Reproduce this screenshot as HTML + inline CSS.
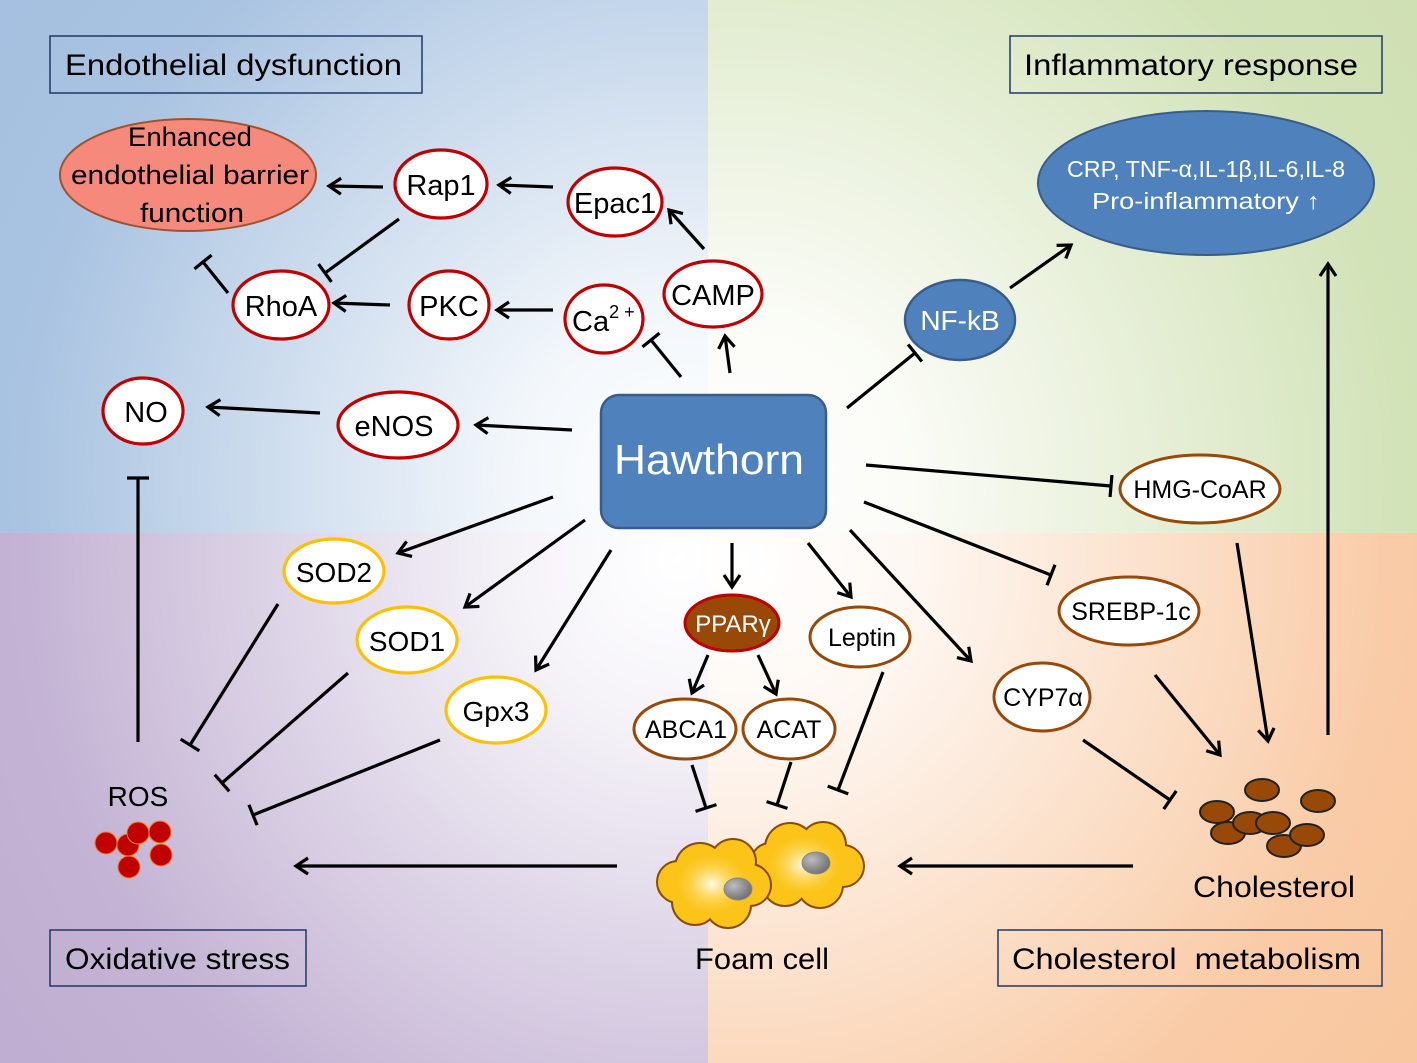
<!DOCTYPE html>
<html><head><meta charset="utf-8"><style>html,body{margin:0;padding:0}svg{display:block}text{font-family:"Liberation Sans","DejaVu Sans",sans-serif}</style></head><body>
<svg width="1417" height="1063" viewBox="0 0 1417 1063" xmlns="http://www.w3.org/2000/svg">
<defs>
<radialGradient id="gTL" gradientUnits="userSpaceOnUse" cx="680" cy="480" r="820"><stop offset="0" stop-color="#ffffff"/><stop offset="0.2" stop-color="#f3f7fb"/><stop offset="0.8" stop-color="#a9c3e1"/><stop offset="1" stop-color="#a5c0e0"/></radialGradient>
<radialGradient id="gTR" gradientUnits="userSpaceOnUse" cx="740" cy="480" r="820"><stop offset="0" stop-color="#ffffff"/><stop offset="0.2" stop-color="#fbfcf7"/><stop offset="0.8" stop-color="#d3e3b9"/><stop offset="1" stop-color="#cfe0b3"/></radialGradient>
<radialGradient id="gBL" gradientUnits="userSpaceOnUse" cx="680" cy="560" r="820"><stop offset="0" stop-color="#ffffff"/><stop offset="0.2" stop-color="#f5f3f8"/><stop offset="0.8" stop-color="#c4b3d4"/><stop offset="1" stop-color="#c0aed2"/></radialGradient>
<radialGradient id="gBR" gradientUnits="userSpaceOnUse" cx="740" cy="560" r="820"><stop offset="0" stop-color="#ffffff"/><stop offset="0.2" stop-color="#fef8f3"/><stop offset="0.8" stop-color="#f9cba6"/><stop offset="1" stop-color="#f8c7a0"/></radialGradient>
<radialGradient id="hl" cx="0.5" cy="0.5" r="0.5"><stop offset="0" stop-color="#fffbea"/><stop offset="1" stop-color="#ffd44a" stop-opacity="0"/></radialGradient>
<radialGradient id="nuc" cx="0.35" cy="0.35" r="0.7"><stop offset="0" stop-color="#bdbdbd"/><stop offset="1" stop-color="#6e6e6e"/></radialGradient>
<marker id="a" markerUnits="userSpaceOnUse" markerWidth="24" markerHeight="24" refX="20" refY="12" orient="auto"><path d="M8,4 L20,12 L8,20" fill="none" stroke="#000" stroke-width="3.2"/></marker>
<marker id="t" markerUnits="userSpaceOnUse" markerWidth="10" markerHeight="26" refX="4" refY="13" orient="auto"><path d="M4,2 L4,24" stroke="#000" stroke-width="3.2"/></marker>
</defs>
<rect x="0" y="0" width="708" height="533" fill="url(#gTL)"/>
<rect x="708" y="0" width="709" height="533" fill="url(#gTR)"/>
<rect x="0" y="533" width="708" height="530" fill="url(#gBL)"/>
<rect x="708" y="533" width="709" height="530" fill="url(#gBR)"/>

<g fill="none" stroke="#1f3864" stroke-width="1.5">
<rect x="50" y="36" width="372" height="57"/><rect x="1010" y="36" width="372" height="57"/>
<rect x="50" y="930" width="256" height="56"/><rect x="998" y="930" width="384" height="56"/>
</g>
<g font-size="30" fill="#000">
<text x="65" y="75" textLength="337" lengthAdjust="spacingAndGlyphs">Endothelial dysfunction</text>
<text x="1024" y="75" textLength="334" lengthAdjust="spacingAndGlyphs">Inflammatory response</text>
<text x="65" y="969" textLength="225" lengthAdjust="spacingAndGlyphs">Oxidative stress</text>
<text x="1012" y="969" xml:space="preserve" textLength="349" lengthAdjust="spacingAndGlyphs">Cholesterol  metabolism</text>
</g>

<g stroke="#000" stroke-width="3.2" fill="none">
<line x1="383" y1="187" x2="329" y2="186" marker-end="url(#a)"/>
<line x1="553" y1="187" x2="499" y2="185" marker-end="url(#a)"/>
<line x1="704" y1="249" x2="669" y2="210" marker-end="url(#a)"/>
<line x1="730" y1="373" x2="725" y2="336" marker-end="url(#a)"/>
<line x1="681" y1="377" x2="651" y2="340" marker-end="url(#t)"/>
<line x1="553" y1="310" x2="497" y2="310" marker-end="url(#a)"/>
<line x1="390" y1="305" x2="334" y2="303" marker-end="url(#a)"/>
<line x1="399" y1="219" x2="325" y2="273" marker-end="url(#t)"/>
<line x1="228" y1="293" x2="203" y2="262" marker-end="url(#t)"/>
<line x1="572" y1="430" x2="476" y2="425" marker-end="url(#a)"/>
<line x1="320" y1="413" x2="208" y2="407" marker-end="url(#a)"/>
<line x1="138" y1="742" x2="138" y2="478" marker-end="url(#t)"/>
<line x1="847" y1="408" x2="915" y2="353" marker-end="url(#t)"/>
<line x1="1010" y1="288" x2="1071" y2="245" marker-end="url(#a)"/>
<line x1="866" y1="465" x2="1111" y2="486" marker-end="url(#t)"/>
<line x1="864" y1="502" x2="1051" y2="575" marker-end="url(#t)"/>
<line x1="850" y1="530" x2="971" y2="661" marker-end="url(#a)"/>
<line x1="808" y1="543" x2="851" y2="597" marker-end="url(#a)"/>
<line x1="732" y1="543" x2="732" y2="587" marker-end="url(#a)"/>
<line x1="708" y1="655" x2="692" y2="693" marker-end="url(#a)"/>
<line x1="758" y1="655" x2="776" y2="694" marker-end="url(#a)"/>
<line x1="692" y1="765" x2="706" y2="808" marker-end="url(#t)"/>
<line x1="791" y1="762" x2="777" y2="805" marker-end="url(#t)"/>
<line x1="883" y1="672" x2="838" y2="790" marker-end="url(#t)"/>
<line x1="1237" y1="543" x2="1268" y2="741" marker-end="url(#a)"/>
<line x1="1155" y1="675" x2="1220" y2="755" marker-end="url(#a)"/>
<line x1="1083" y1="740" x2="1170" y2="800" marker-end="url(#t)"/>
<line x1="1328" y1="735" x2="1328" y2="264" marker-end="url(#a)"/>
<line x1="553" y1="497" x2="398" y2="553" marker-end="url(#a)"/>
<line x1="585" y1="520" x2="465" y2="607" marker-end="url(#a)"/>
<line x1="611" y1="550" x2="536" y2="670" marker-end="url(#a)"/>
<line x1="278" y1="604" x2="190" y2="745" marker-end="url(#t)"/>
<line x1="348" y1="673" x2="222" y2="783" marker-end="url(#t)"/>
<line x1="440" y1="740" x2="253" y2="815" marker-end="url(#t)"/>
<line x1="617" y1="866" x2="296" y2="866" marker-end="url(#a)"/>
<line x1="1133" y1="866" x2="900" y2="866" marker-end="url(#a)"/>
</g>

<ellipse cx="188" cy="175" rx="128" ry="56" fill="#f4897c" stroke="#a0522d" stroke-width="2"/>
<g font-size="27" fill="#000" text-anchor="middle">
<text x="190" y="146" textLength="124" lengthAdjust="spacingAndGlyphs">Enhanced</text><text x="190" y="184" textLength="238" lengthAdjust="spacingAndGlyphs">endothelial barrier</text><text x="192" y="222" textLength="104" lengthAdjust="spacingAndGlyphs">function</text>
</g>

<g fill="#fff" stroke="#c00000" stroke-width="3.2">
<ellipse cx="441" cy="184" rx="46" ry="34"/><ellipse cx="615" cy="202" rx="47" ry="34"/>
<ellipse cx="281" cy="305" rx="48" ry="34"/><ellipse cx="449" cy="305" rx="40" ry="34"/>
<ellipse cx="604" cy="319" rx="39" ry="34"/><ellipse cx="713" cy="294" rx="49" ry="33"/>
<ellipse cx="143" cy="411" rx="40" ry="33"/><ellipse cx="398" cy="425" rx="60" ry="33"/>
</g>
<g font-size="29" fill="#000" text-anchor="middle">
<text x="441" y="195">Rap1</text><text x="615" y="213">Epac1</text>
<text x="281" y="316">RhoA</text><text x="449" y="316">PKC</text>
<text x="713" y="305">CAMP</text><text x="146" y="422">NO</text><text x="394" y="436">eNOS</text>
</g>
<text x="572" y="331" font-size="29" fill="#000">Ca<tspan font-size="18" dy="-13">2 +</tspan></text>

<rect x="601" y="395" width="225" height="133" rx="18" fill="#4f81bd" stroke="#385d8a" stroke-width="2.5"/>
<text x="709" y="474" font-size="42" fill="#fff" text-anchor="middle" textLength="190" lengthAdjust="spacingAndGlyphs">Hawthorn</text>

<ellipse cx="960" cy="320" rx="55" ry="40" fill="#4f81bd" stroke="#385d8a" stroke-width="2.5"/>
<text x="960" y="330" font-size="28" fill="#fff" text-anchor="middle">NF-kB</text>
<ellipse cx="1206" cy="183" rx="168" ry="72" fill="#4f81bd" stroke="#385d8a" stroke-width="2"/>
<text x="1206" y="177" font-size="23" fill="#fff" text-anchor="middle" textLength="278" lengthAdjust="spacingAndGlyphs">CRP, TNF-α,IL-1β,IL-6,IL-8</text>
<text x="1206" y="209" font-size="23" fill="#fff" text-anchor="middle" textLength="228" lengthAdjust="spacingAndGlyphs">Pro-inflammatory ↑</text>

<g fill="#fff" stroke="#984807" stroke-width="3">
<ellipse cx="1200" cy="489" rx="80" ry="34"/><ellipse cx="1129" cy="611" rx="70" ry="34"/>
<ellipse cx="1042" cy="697" rx="48" ry="34"/><ellipse cx="860" cy="637" rx="50" ry="30"/>
<ellipse cx="685" cy="729" rx="51" ry="30"/><ellipse cx="789" cy="729" rx="46" ry="30"/>
</g>
<ellipse cx="732" cy="623" rx="47" ry="28" fill="#984807" stroke="#c00000" stroke-width="3"/>
<g font-size="25" fill="#000" text-anchor="middle">
<text x="1200" y="498">HMG-CoAR</text><text x="1131" y="620">SREBP-1c</text>
<text x="1043" y="706">CYP7α</text><text x="862" y="646">Leptin</text>
<text x="686" y="738">ABCA1</text><text x="789" y="738">ACAT</text>
</g>
<text x="733" y="632" font-size="24" fill="#fff" text-anchor="middle">PPARγ</text>

<g fill="#fff" stroke="#ffc000" stroke-width="3.2">
<ellipse cx="334" cy="571" rx="50" ry="32"/><ellipse cx="407" cy="640" rx="50" ry="33"/><ellipse cx="496" cy="710" rx="50" ry="33"/>
</g>
<g font-size="28" fill="#000" text-anchor="middle">
<text x="334" y="582">SOD2</text><text x="407" y="651">SOD1</text><text x="496" y="721">Gpx3</text>
</g>

<text x="138" y="806" font-size="28" fill="#000" text-anchor="middle">ROS</text>
<g fill="#c00000" stroke="#f08020" stroke-width="1">
<circle cx="106" cy="843" r="11"/><circle cx="128" cy="845" r="11"/><circle cx="138" cy="833" r="11"/>
<circle cx="160" cy="832" r="11"/><circle cx="129" cy="867" r="11"/><circle cx="161" cy="855" r="11"/>
</g>

<g fill="#984807" stroke="#222" stroke-width="2">
<ellipse cx="1262" cy="790" rx="17" ry="11"/><ellipse cx="1318" cy="801" rx="17" ry="11"/>
<ellipse cx="1217" cy="812" rx="17" ry="11"/><ellipse cx="1228" cy="833" rx="17" ry="11"/>
<ellipse cx="1284" cy="846" rx="17" ry="11"/><ellipse cx="1250" cy="823" rx="17" ry="11"/>
<ellipse cx="1273" cy="823" rx="17" ry="11"/><ellipse cx="1307" cy="835" rx="17" ry="11"/>
</g>
<text x="1274" y="897" font-size="30" fill="#000" text-anchor="middle" textLength="162" lengthAdjust="spacingAndGlyphs">Cholesterol</text>

<g stroke="#8a4a0a" stroke-width="4">
<circle cx="790" cy="848" r="24"/><circle cx="823" cy="845" r="22"/><circle cx="843" cy="866" r="20"/><circle cx="820" cy="885" r="22"/><circle cx="785" cy="883" r="22"/><circle cx="770" cy="862" r="18"/>
</g>
<g fill="#fcc419">
<circle cx="790" cy="848" r="24"/><circle cx="823" cy="845" r="22"/><circle cx="843" cy="866" r="20"/><circle cx="820" cy="885" r="22"/><circle cx="785" cy="883" r="22"/><circle cx="770" cy="862" r="18"/><circle cx="806" cy="865" r="30"/>
</g>
<ellipse cx="804" cy="865" rx="36" ry="30" fill="url(#hl)"/>
<g stroke="#8a4a0a" stroke-width="4"><circle cx="700" cy="868" r="24"/><circle cx="733" cy="862" r="22"/><circle cx="750" cy="885" r="20"/><circle cx="728" cy="905" r="22"/><circle cx="695" cy="902" r="22"/><circle cx="678" cy="882" r="20"/></g>
<g fill="#fcc419">
<circle cx="700" cy="868" r="24"/><circle cx="733" cy="862" r="22"/><circle cx="750" cy="885" r="20"/><circle cx="728" cy="905" r="22"/><circle cx="695" cy="902" r="22"/><circle cx="678" cy="882" r="20"/><circle cx="714" cy="884" r="30"/>
</g>
<ellipse cx="712" cy="884" rx="36" ry="30" fill="url(#hl)"/>
<ellipse cx="738" cy="889" rx="14" ry="11" fill="url(#nuc)" stroke="#888"/>
<ellipse cx="816" cy="863" rx="14" ry="11" fill="url(#nuc)" stroke="#888"/>
<text x="762" y="969" font-size="30" fill="#000" text-anchor="middle" textLength="134" lengthAdjust="spacingAndGlyphs">Foam cell</text>
</svg>
</body></html>
